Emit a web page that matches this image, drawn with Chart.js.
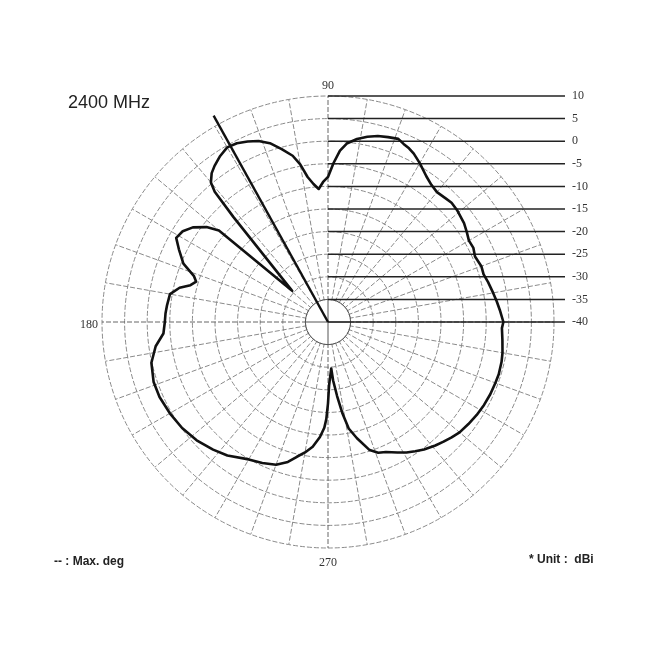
<!DOCTYPE html>
<html>
<head>
<meta charset="utf-8">
<script src="https://cdn.jsdelivr.net/npm/chart.js@4.4.0/dist/chart.umd.min.js"></script>
<style>
body{margin:0;background:#fff;}
</style>
</head>
<body>
<canvas id="patternChart" width="650" height="650"></canvas>
<script>
// readings: angle in degrees (0 = right, counter clockwise) and gain in dBi
var angles = [0, 4, 7, 10, 14, 17, 20, 24, 27, 30, 33, 36, 41, 44, 46, 50, 53, 56, 60, 63,
  65, 67, 69, 72, 75, 78, 81, 84, 86, 88, 90, 92, 94, 96, 98, 100, 102, 105, 108, 111,
  114, 117, 120, 123, 126, 128, 130, 131, 132, 139, 140, 142, 145, 148, 151, 154, 158, 161, 163, 165,
  167, 170, 174, 177, 180, 184, 188, 193, 199, 204, 210, 216, 222, 228, 233, 240, 245, 250, 254, 257,
  260, 263, 266, 268, 269, 270, 271, 274, 275, 277, 279, 281, 284, 288, 291, 294, 298, 301, 304, 307,
  311, 314, 317, 320, 324, 328, 332, 336, 340, 343, 347, 350, 354, 358];
var gains = [-1.2, -1.9, -2.4, -2.9, -3.5, -4.0, -3.9, -4.4, -3.9, -4.0, -3.4, -2.8, -2.2, -2.0, -2.2, -2.5, -2.0, -1.1, 0.6, 1.8,
  2.4, 2.8, 3.4, 3.0, 2.6, 1.9, 1.0, -0.3, -2.0, -4.8, -7.9, -9.0, -10.5, -9.3, -7.6, -4.6, -2.4, -0.4, 1.6, 2.9,
  3.7, 4.4, 4.6, 3.8, 2.7, 1.8, 0.3, -1.8, -8.7, -29.5, -8.5, -5.9, -3.5, -2.1, -1.6, -3.3, -5.5, -8.6, -9.5, -8.5,
  -6.3, -4.5, -4.2, -4.0, -3.9, -3.5, -1.5, 0.1, 0.8, 0.8, 0.4, -0.1, -0.9, -2.0, -3.0, -4.9, -5.6, -6.4, -7.8, -9.4,
  -10.7, -12.2, -14.5, -16.6, -18.5, -22.0, -26.0, -29.7, -27.0, -23.5, -19.5, -16.0, -13.5, -10.2, -9.0, -8.5, -7.3, -6.3, -5.5, -4.7,
  -3.8, -3.2, -2.6, -2.0, -1.6, -1.2, -0.9, -0.7, -0.6, -0.5, -0.6, -0.8, -1.2, -1.5];

// max direction line
var maxAngle = 119;
var maxReach = 12.2;

var levelTicks = [10, 5, 0, -5, -10, -15, -20, -25, -30, -35, -40];
var axisLabels = [90, 180, 270];

// radar runs clockwise from the top, so index i means angle 90 - i
function idx(a){
  return ((90 - a) % 360 + 360) % 360;
}
var labels = [];
for (var i = 0; i < 360; i++){
  labels.push(String(((90 - i) % 360 + 360) % 360));
}

var pattern = new Array(360).fill(null);
for (var j = 0; j < angles.length; j++){
  pattern[idx(angles[j])] = gains[j];
}

var maxLine = new Array(360).fill(null);
maxLine[idx(maxAngle)] = maxReach;
maxLine[idx(maxAngle + 1)] = -40; // centre

var extras = {
  id: 'extras',
  beforeDatasetsDraw: function(chart){
    var r = chart.scales.r, ctx = chart.ctx;
    var cx = r.xCenter, cy = r.yCenter;
    var inner = r.getDistanceFromCenterForValue(-35);
    ctx.save();
    // middle stays empty, only the main axes cross it
    ctx.fillStyle = '#fff';
    ctx.beginPath();
    ctx.arc(cx, cy, inner - 0.5, 0, Math.PI * 2);
    ctx.fill();
    ctx.strokeStyle = '#555';
    ctx.lineWidth = 1;
    ctx.beginPath();
    ctx.arc(cx, cy, inner, 0, Math.PI * 2);
    ctx.stroke();
    ctx.beginPath();
    ctx.moveTo(cx - inner, cy); ctx.lineTo(cx + inner, cy);
    ctx.moveTo(cx, cy - inner); ctx.lineTo(cx, cy + inner);
    ctx.stroke();

    // level lines out to the scale on the right
    ctx.strokeStyle = '#222';
    ctx.lineWidth = 1.5;
    ctx.fillStyle = '#333';
    ctx.font = '12px "Liberation Serif", serif';
    ctx.textAlign = 'left';
    ctx.textBaseline = 'middle';
    levelTicks.forEach(function(v){
      var y = cy - r.getDistanceFromCenterForValue(v);
      ctx.beginPath();
      ctx.moveTo(cx, y);
      ctx.lineTo(cx + 237, y);
      ctx.stroke();
      ctx.fillText(String(v), cx + 244, y);
    });

    // degree labels
    axisLabels.forEach(function(a){
      var gap = 10;
      ctx.textAlign = 'center';
      if (a === 180){ ctx.textAlign = 'right'; gap = 4; }
      if (a === 270){ gap = 15; }
      var p = r.getPointPosition(idx(a), r.drawingArea + gap);
      ctx.fillText(String(a), p.x, a === 180 ? p.y + 3 : p.y);
    });
    ctx.restore();
  },
  afterDraw: function(chart){
    var ctx = chart.ctx;
    ctx.save();
    ctx.fillStyle = '#222';
    ctx.textBaseline = 'middle';
    ctx.textAlign = 'left';
    ctx.font = '18px "Liberation Sans", Arial, sans-serif';
    ctx.fillText('2400 MHz', 68, 103);
    ctx.font = 'bold 12px "Liberation Sans Narrow", "Liberation Sans", sans-serif';
    ctx.fillText('-- : Max. deg', 54, 562);
    ctx.fillText('* Unit :  dBi', 529, 560);
    ctx.restore();
  }
};

var ctx = document.getElementById('patternChart').getContext('2d');
var patternChart = new Chart(ctx, {
  type: 'radar',
  data: {
    labels: labels,
    datasets: [{
      label: '2400 MHz',
      data: pattern,
      borderColor: '#111',
      borderWidth: 2.6,
      backgroundColor: 'transparent',
      fill: false,
      spanGaps: true,
      pointRadius: 0,
      borderJoinStyle: 'round'
    }, {
      label: 'Max. deg',
      data: maxLine,
      borderColor: '#111',
      borderWidth: 2.4,
      fill: false,
      pointRadius: 0
    }]
  },
  options: {
    responsive: false,
    animation: false,
    layout: {padding: {left: 102, right: 96, top: 96, bottom: 102}},
    plugins: {
      legend: {display: false},
      tooltip: {enabled: false}
    },
    scales: {
      r: {
        min: -40,
        max: 10,
        ticks: {display: false, stepSize: 5},
        pointLabels: {display: false},
        grid: {circular: true, color: '#8a8a8a', lineWidth: 1},
        border: {dash: [5, 2]},
        angleLines: {
          color: function(c){ return (c.index % 90 === 0) ? '#666' : '#8a8a8a'; },
          lineWidth: function(c){ return c.index % 10 === 0 ? 1 : 0; },
          borderDash: [5, 2]
        }
      }
    }
  },
  plugins: [extras]
});
</script>
</body>
</html>
